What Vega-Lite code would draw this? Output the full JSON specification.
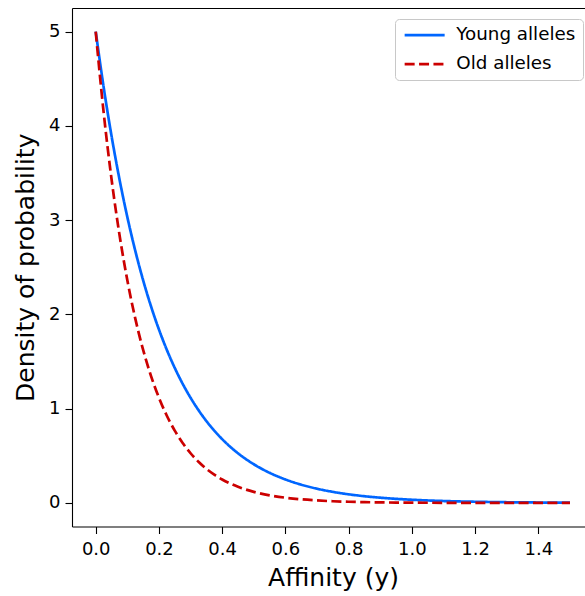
{
  "$schema": "https://vega.github.io/schema/vega-lite/v6.json",
  "autosize": {"type": "none"},
  "padding": {"left": 72, "top": 8, "right": 0, "bottom": 69},
  "width": 513,
  "height": 518.5,
  "config": {
    "view": {"stroke": null},
    "font": "DejaVu Sans",
    "axis": {"grid": false, "domainColor": "black", "domainWidth": 1.1, "tickColor": "black", "tickWidth": 1.1, "tickSize": 7, "labelColor": "black", "labelFont": "DejaVu Sans", "labelFontSize": 18, "titleFont": "DejaVu Sans", "titleFontSize": 25, "titleFontWeight": "normal", "titleColor": "black"},
    "legend": {"symbolType": "M-1.3,0H6.7", "symbolSize": 100, "symbolStrokeWidth": 2.7, "labelFontSize": 18.3, "labelFont": "DejaVu Sans", "labelColor": "black", "labelOffset": 36, "padding": 7, "rowPadding": 10, "fillColor": "white", "strokeColor": "#c8c8c8", "strokeWidth": 1, "cornerRadius": 4}
  },
  "data": {"values": [
    {"x": 0, "density": 5, "series": "Young alleles"},
    {"x": 0.025, "density": 4.4125, "series": "Young alleles"},
    {"x": 0.05, "density": 3.894, "series": "Young alleles"},
    {"x": 0.075, "density": 3.4364, "series": "Young alleles"},
    {"x": 0.1, "density": 3.0327, "series": "Young alleles"},
    {"x": 0.125, "density": 2.6763, "series": "Young alleles"},
    {"x": 0.15, "density": 2.3618, "series": "Young alleles"},
    {"x": 0.175, "density": 2.0843, "series": "Young alleles"},
    {"x": 0.2, "density": 1.8394, "series": "Young alleles"},
    {"x": 0.225, "density": 1.6233, "series": "Young alleles"},
    {"x": 0.25, "density": 1.4325, "series": "Young alleles"},
    {"x": 0.275, "density": 1.2642, "series": "Young alleles"},
    {"x": 0.3, "density": 1.1157, "series": "Young alleles"},
    {"x": 0.325, "density": 0.9846, "series": "Young alleles"},
    {"x": 0.35, "density": 0.8689, "series": "Young alleles"},
    {"x": 0.375, "density": 0.7668, "series": "Young alleles"},
    {"x": 0.4, "density": 0.6767, "series": "Young alleles"},
    {"x": 0.45, "density": 0.527, "series": "Young alleles"},
    {"x": 0.5, "density": 0.4104, "series": "Young alleles"},
    {"x": 0.55, "density": 0.3196, "series": "Young alleles"},
    {"x": 0.6, "density": 0.2489, "series": "Young alleles"},
    {"x": 0.65, "density": 0.1939, "series": "Young alleles"},
    {"x": 0.7, "density": 0.151, "series": "Young alleles"},
    {"x": 0.75, "density": 0.1176, "series": "Young alleles"},
    {"x": 0.8, "density": 0.0916, "series": "Young alleles"},
    {"x": 0.85, "density": 0.0713, "series": "Young alleles"},
    {"x": 0.9, "density": 0.0555, "series": "Young alleles"},
    {"x": 0.95, "density": 0.0433, "series": "Young alleles"},
    {"x": 1.0, "density": 0.0337, "series": "Young alleles"},
    {"x": 1.1, "density": 0.0204, "series": "Young alleles"},
    {"x": 1.2, "density": 0.0124, "series": "Young alleles"},
    {"x": 1.3, "density": 0.0075, "series": "Young alleles"},
    {"x": 1.4, "density": 0.0046, "series": "Young alleles"},
    {"x": 1.5, "density": 0.0028, "series": "Young alleles"},
    {"x": 0, "density": 5, "series": "Old alleles"},
    {"x": 0.025, "density": 4.1451, "series": "Old alleles"},
    {"x": 0.05, "density": 3.4364, "series": "Old alleles"},
    {"x": 0.075, "density": 2.8489, "series": "Old alleles"},
    {"x": 0.1, "density": 2.3618, "series": "Old alleles"},
    {"x": 0.125, "density": 1.958, "series": "Old alleles"},
    {"x": 0.15, "density": 1.6233, "series": "Old alleles"},
    {"x": 0.175, "density": 1.3457, "series": "Old alleles"},
    {"x": 0.2, "density": 1.1157, "series": "Old alleles"},
    {"x": 0.225, "density": 0.9249, "series": "Old alleles"},
    {"x": 0.25, "density": 0.7668, "series": "Old alleles"},
    {"x": 0.275, "density": 0.6357, "series": "Old alleles"},
    {"x": 0.3, "density": 0.527, "series": "Old alleles"},
    {"x": 0.325, "density": 0.4369, "series": "Old alleles"},
    {"x": 0.35, "density": 0.3622, "series": "Old alleles"},
    {"x": 0.375, "density": 0.3003, "series": "Old alleles"},
    {"x": 0.4, "density": 0.2489, "series": "Old alleles"},
    {"x": 0.45, "density": 0.1711, "series": "Old alleles"},
    {"x": 0.5, "density": 0.1176, "series": "Old alleles"},
    {"x": 0.55, "density": 0.0808, "series": "Old alleles"},
    {"x": 0.6, "density": 0.0555, "series": "Old alleles"},
    {"x": 0.65, "density": 0.0382, "series": "Old alleles"},
    {"x": 0.7, "density": 0.0262, "series": "Old alleles"},
    {"x": 0.75, "density": 0.018, "series": "Old alleles"},
    {"x": 0.8, "density": 0.0124, "series": "Old alleles"},
    {"x": 0.85, "density": 0.0085, "series": "Old alleles"},
    {"x": 0.9, "density": 0.0059, "series": "Old alleles"},
    {"x": 0.95, "density": 0.004, "series": "Old alleles"},
    {"x": 1.0, "density": 0.0028, "series": "Old alleles"},
    {"x": 1.1, "density": 0.0013, "series": "Old alleles"},
    {"x": 1.2, "density": 0.0006, "series": "Old alleles"},
    {"x": 1.3, "density": 0.0003, "series": "Old alleles"},
    {"x": 1.4, "density": 0.0001, "series": "Old alleles"},
    {"x": 1.5, "density": 0.0001, "series": "Old alleles"}
  ]},
  "layer": [
    {
      "mark": {"type": "line", "strokeWidth": 2.7, "interpolate": "monotone"},
      "encoding": {
        "x": {"field": "x", "type": "quantitative", "scale": {"domain": [-0.075, 1.5475], "nice": false, "zero": false},
          "axis": {"orient": "bottom", "title": "Affinity (y)", "values": [0, 0.2, 0.4, 0.6, 0.8, 1.0, 1.2, 1.4], "format": ".1f", "labelPadding": 7, "titlePadding": 7, "titleX": 261, "titleAlign": "center"}},
        "y": {"field": "density", "type": "quantitative", "scale": {"domain": [-0.25, 5.25], "nice": false, "zero": false},
          "axis": {"title": "Density of probability", "values": [0, 1, 2, 3, 4, 5], "format": "d", "labelPadding": 5, "titlePadding": 10}},
        "color": {"field": "series", "type": "nominal", "sort": ["Young alleles", "Old alleles"],
          "scale": {"domain": ["Young alleles", "Old alleles"], "range": ["#0066ff", "#cc0000"]},
          "legend": {"title": null, "orient": "none", "legendX": 323, "legendY": 11}},
        "strokeDash": {"field": "series", "type": "nominal", "sort": ["Young alleles", "Old alleles"],
          "scale": {"domain": ["Young alleles", "Old alleles"], "range": [[1, 0], [10, 4.4]]},
          "legend": {"title": null, "orient": "none", "legendX": 323, "legendY": 11}}
      }
    },
    {
      "mark": {"type": "line", "strokeOpacity": 0},
      "encoding": {
        "x": {"field": "x", "type": "quantitative", "axis": {"orient": "top", "title": null, "labels": false, "ticks": false}},
        "y": {"field": "density", "type": "quantitative"},
        "detail": {"field": "series"}
      }
    }
  ]
}
